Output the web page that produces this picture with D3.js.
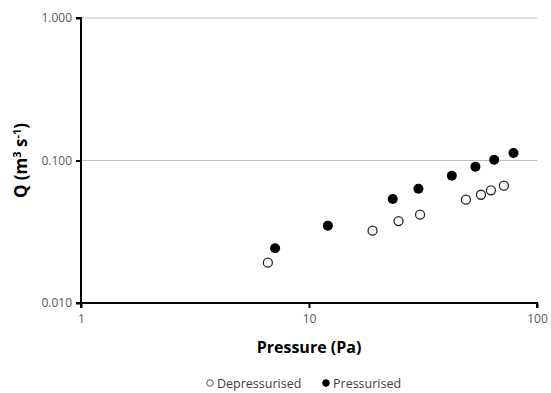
<!DOCTYPE html>
<html>
<head>
<meta charset="utf-8">
<script src="https://cdn.jsdelivr.net/npm/d3@7"></script>
<style>
  body { margin: 0; background: #fff; }
  text { font-family: "Open Sans", "Liberation Sans", sans-serif; }
</style>
</head>
<body>
<div id="chart"></div>
<script>
// values
const depX = [6.6, 19.0, 24.7, 30.7, 48.8, 56.8, 62.8, 71.6];
const depY = [0.0192, 0.0322, 0.0376, 0.0417, 0.0531, 0.0575, 0.0618, 0.0666];
const presX = [7.1, 12.1, 23.3, 30.2, 42.3, 53.7, 64.9, 78.9];
const presY = [0.0242, 0.0349, 0.0537, 0.0634, 0.0782, 0.0905, 0.1013, 0.1129];
const xTicks = [1, 10, 100];
const yTicks = [0.01, 0.1, 1];

const width = 551, height = 393;
const margin = {top: 18, right: 14, bottom: 90, left: 81};

const svg = d3.select("#chart").append("svg")
  .attr("width", width)
  .attr("height", height);

const x = d3.scaleLog().domain([1, 100]).range([margin.left, width - margin.right]);
const y = d3.scaleLog().domain([0.01, 1]).range([height - margin.bottom, margin.top]);

// gridlines
svg.append("g")
  .selectAll("line")
  .data(yTicks.slice(1))
  .enter().append("line")
  .attr("x1", margin.left).attr("x2", width - margin.right)
  .attr("y1", d => y(d)).attr("y2", d => y(d))
  .attr("stroke", "#bfbfbf").attr("stroke-width", 1);

// y axis
const yAxis = svg.append("g")
  .attr("transform", `translate(${margin.left},0)`)
  .call(d3.axisLeft(y).tickValues(yTicks).tickFormat(d3.format(".3f")).tickSize(5).tickPadding(4));

// x axis
const xAxis = svg.append("g")
  .attr("transform", `translate(0,${height - margin.bottom})`)
  .call(d3.axisBottom(x).tickValues(xTicks).tickFormat(d3.format("d")).tickSize(5).tickPadding(6));

[xAxis, yAxis].forEach(g => {
  g.select(".domain").attr("stroke", "#000").attr("stroke-width", 2);
  g.selectAll(".tick line").attr("stroke", "#000").attr("stroke-width", 2);
  g.selectAll(".tick text").attr("fill", "#595959").style("font-size", "12px");
});
yAxis.select(".domain").attr("d", `M-5,${y(1)}H0V${y(0.01)}H-5`);
xAxis.select(".domain").attr("d", `M${x(1)},5V0H${x(100)}V5`);

// points
svg.append("g").selectAll("circle")
  .data(depX.map((d, i) => [d, depY[i]]))
  .enter().append("circle")
  .attr("cx", d => x(d[0])).attr("cy", d => y(d[1]))
  .attr("r", 4.5)
  .attr("fill", "#fff").attr("stroke", "#262626").attr("stroke-width", 1.3);

svg.append("g").selectAll("circle")
  .data(presX.map((d, i) => [d, presY[i]]))
  .enter().append("circle")
  .attr("cx", d => x(d[0])).attr("cy", d => y(d[1]))
  .attr("r", 5)
  .attr("fill", "#000");

// axis titles
svg.append("text")
  .attr("x", (x(1) + x(100)) / 2).attr("y", 353)
  .attr("text-anchor", "middle")
  .style("font-size", "16px").style("font-weight", "bold").attr("fill", "#000")
  .text("Pressure (Pa)");

const yt = svg.append("text")
  .attr("transform", `translate(27,${(y(1) + y(0.01)) / 2}) rotate(-90)`)
  .attr("text-anchor", "middle")
  .style("font-size", "17px").style("font-weight", "bold").attr("fill", "#000");
yt.append("tspan").text("Q (m");
yt.append("tspan").attr("dy", -6).style("font-size", "11px").text("3");
yt.append("tspan").attr("dy", 6).text(" s");
yt.append("tspan").attr("dy", -6).style("font-size", "11px").text("-1");
yt.append("tspan").attr("dy", 6).text(")");

// legend
const legend = svg.append("g").attr("transform", "translate(0,383)");
const items = [
  {label: "Depressurised", fill: "#fff", stroke: "#595959", cx: 210},
  {label: "Pressurised", fill: "#000", stroke: "#000", cx: 326}
];
items.forEach(it => {
  legend.append("circle").attr("cx", it.cx).attr("cy", 0).attr("r", 3.3)
    .attr("fill", it.fill).attr("stroke", it.stroke).attr("stroke-width", 1);
  legend.append("text").attr("x", it.cx + 7).attr("y", 4.5)
    .style("font-size", "12.5px").attr("fill", "#404040").text(it.label);
});
</script>
</body>
</html>
